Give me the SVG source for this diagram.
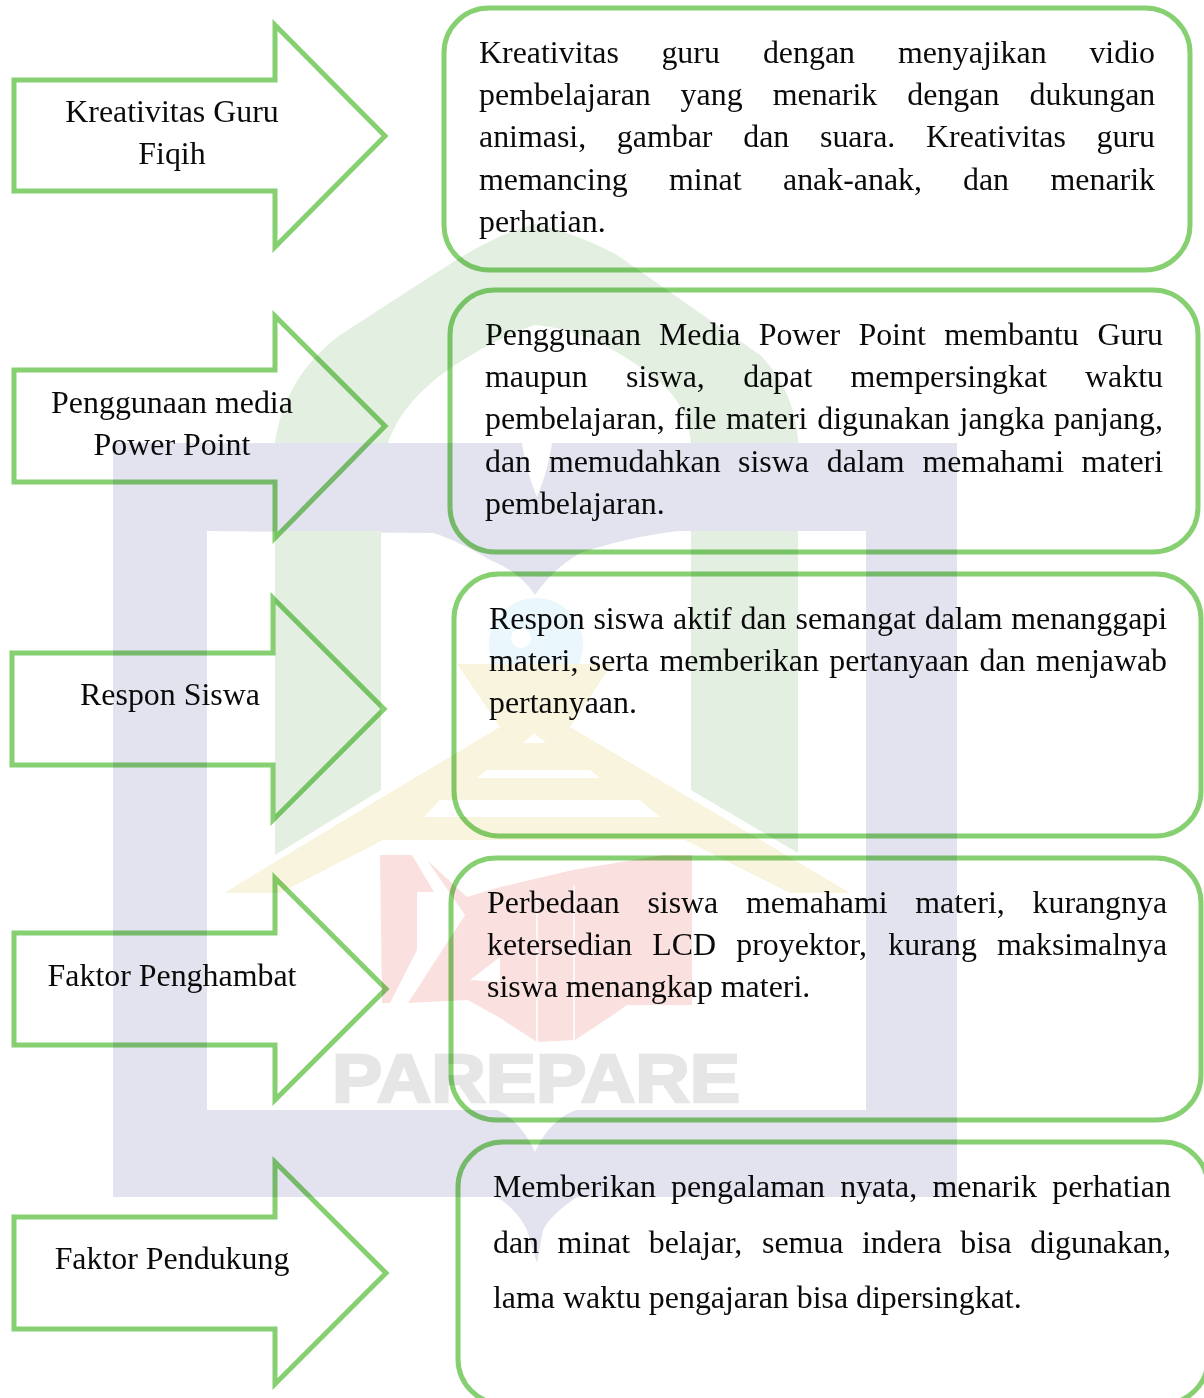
<svg xmlns="http://www.w3.org/2000/svg" width="1204" height="1398" viewBox="0 0 1204 1398">
<style>
text{font-family:"Liberation Serif","Times New Roman",serif;font-size:31.9px;fill:#0a0a0a}
.c{text-anchor:middle}
.s{fill:none;stroke:#86d072;stroke-width:5;mix-blend-mode:multiply;stroke-miterlimit:10}
.bl{fill:#e2e3ee}.gr{fill:#e3efe1}.ye{fill:#f8f4dd}.re{fill:#fbe0e0}.cy{fill:#eaf7fd}
#wm text{font-family:"Liberation Sans",Arial,sans-serif;font-weight:700;font-size:69px;fill:#e6e6e6;stroke:#e6e6e6;stroke-width:2.5}
</style>
<rect width="1204" height="1398" fill="#fff"/>
<g id="wm">
<path class="gr" d="M274 452C278 405 300 365 340 335L453 262C480 245 510 230 535 224C555 228 590 240 617 255L760 355C785 380 797 410 799 452L692 452C690 420 680 395 650 375C620 350 575 328 535 325C505 335 475 352 449 369C420 390 395 415 385 452Z"/>
<path class="bl" fill-rule="evenodd" d="M113 443H522C525 465 532 485 537 497C542 485 549 465 552 443H957V1197H577C560 1208 548 1220 543 1230L537 1263L527 1230C522 1220 514 1208 497 1197H113ZM207 531V1110H497C510 1115 525 1130 535 1152C545 1130 560 1115 577 1110H866V531H680C640 535 605 545 580 553C560 565 545 580 535 595C525 580 510 568 490 560C470 548 450 538 433 533Z"/>
<path class="gr" d="M275 531H381V790L275 855Z"/>
<path class="gr" d="M691 531H798V853L691 790Z"/>
<circle class="cy" cx="536" cy="645" r="47"/>
<circle cx="521" cy="638" r="10" fill="#fff"/>
<path class="ye" fill-rule="evenodd" d="M224 893L381 798L500 727L457 664H612L570 727L850 893H790L685 840H383L280 893ZM534 733L523 743H546ZM487 770H590L600 778H477ZM440 800H640L660 817H424Z"/>
<path class="re" d="M380 855H412L434 892H417V950L390 1003H382Z"/>
<path class="re" fill-rule="evenodd" d="M427 860L467 897L500 887L573 870L663 855H692V1005H627L613 1015L575 1040L537 1042L500 1018L468 1000L408 1003L465 915ZM500 957L470 980L500 982Z"/>
<path d="M537 900V1042M574 885V1040" stroke="#fff" stroke-width="1.5" fill="none"/>
<text x="332" y="1102" textLength="408" lengthAdjust="spacingAndGlyphs">PAREPARE</text>
</g>
<g id="arrow1"><path class="s" d="M14 80H275V25L385 136L275 247V191H14Z"/><text class="c" x="172" y="122">Kreativitas Guru</text><text class="c" x="172" y="164">Fiqih</text></g>
<g id="arrow2"><path class="s" d="M14 370H275V316L385 426L275 538V482H14Z"/><text class="c" x="172" y="413">Penggunaan media</text><text class="c" x="172" y="455">Power Point</text></g>
<g id="arrow3"><path class="s" d="M12 653H273V598L384 709L273 820V765H12Z"/><text class="c" x="170" y="705">Respon Siswa</text></g>
<g id="arrow4"><path class="s" d="M14 933H275V878L386 989L275 1100V1045H14Z"/><text class="c" x="172" y="986">Faktor Penghambat</text></g>
<g id="arrow5"><path class="s" d="M14 1217H275V1162L386 1273L275 1384V1329H14Z"/><text class="c" x="172" y="1269">Faktor Pendukung</text></g>
<g id="box1"><rect class="s" x="444" y="8" width="746" height="262" rx="45"/>
<text y="63"><tspan x="479">Kreativitas</tspan><tspan x="661.4">guru</tspan><tspan x="762.9">dengan</tspan><tspan x="897.9">menyajikan</tspan><tspan x="1089.4">vidio</tspan></text>
<text y="105"><tspan x="479">pembelajaran</tspan><tspan x="680.6">yang</tspan><tspan x="772.8">menarik</tspan><tspan x="907.3">dengan</tspan><tspan x="1029.5">dukungan</tspan></text>
<text y="147"><tspan x="479">animasi,</tspan><tspan x="616.8">gambar</tspan><tspan x="743.2">dan</tspan><tspan x="820">suara.</tspan><tspan x="926">Kreativitas</tspan><tspan x="1096.5">guru</tspan></text>
<text y="190"><tspan x="479">memancing</tspan><tspan x="669">minat</tspan><tspan x="783">anak-anak,</tspan><tspan x="963">dan</tspan><tspan x="1050.5">menarik</tspan></text>
<text x="479" y="232">perhatian.</text></g>
<g id="box2"><rect class="s" x="450" y="290" width="748" height="262" rx="45"/>
<text y="345"><tspan x="485">Penggunaan</tspan><tspan x="659">Media</tspan><tspan x="758.7">Power</tspan><tspan x="858.4">Point</tspan><tspan x="944.2">membantu</tspan><tspan x="1097.5">Guru</tspan></text>
<text y="387"><tspan x="485">maupun</tspan><tspan x="626">siswa,</tspan><tspan x="743.2">dapat</tspan><tspan x="850.4">mempersingkat</tspan><tspan x="1085">waktu</tspan></text>
<text y="429"><tspan x="485">pembelajaran,</tspan><tspan x="674">file</tspan><tspan x="726">materi</tspan><tspan x="817.2">digunakan</tspan><tspan x="959.6">jangka</tspan><tspan x="1054">panjang,</tspan></text>
<text y="472"><tspan x="485">dan</tspan><tspan x="548.9">memudahkan</tspan><tspan x="738">siswa</tspan><tspan x="826.7">dalam</tspan><tspan x="922.4">memahami</tspan><tspan x="1081.6">materi</tspan></text>
<text x="485" y="514">pembelajaran.</text></g>
<g id="box3"><rect class="s" x="454" y="574" width="747" height="262" rx="45"/>
<text y="629"><tspan x="489">Respon</tspan><tspan x="593.4">siswa</tspan><tspan x="673.1">aktif</tspan><tspan x="740.5">dan</tspan><tspan x="795.5">semangat</tspan><tspan x="924.7">dalam</tspan><tspan x="1011.3">menanggapi</tspan></text>
<text y="671"><tspan x="489">materi,</tspan><tspan x="588.8">serta</tspan><tspan x="659.5">memberikan</tspan><tspan x="829.2">pertanyaan</tspan><tspan x="979.4">dan</tspan><tspan x="1036">menjawab</tspan></text>
<text x="489" y="713">pertanyaan.</text></g>
<g id="box4"><rect class="s" x="451" y="858" width="750" height="262" rx="45"/>
<text y="913"><tspan x="487">Perbedaan</tspan><tspan x="647.4">siswa</tspan><tspan x="746">memahami</tspan><tspan x="915.3">materi,</tspan><tspan x="1032.5">kurangnya</tspan></text>
<text y="955"><tspan x="487">ketersedian</tspan><tspan x="652.2">LCD</tspan><tspan x="736.2">proyektor,</tspan><tspan x="888.3">kurang</tspan><tspan x="997">maksimalnya</tspan></text>
<text x="487" y="997">siswa menangkap materi.</text></g>
<g id="box5"><rect class="s" x="458" y="1142" width="750" height="262" rx="45"/>
<text y="1197"><tspan x="493">Memberikan</tspan><tspan x="671">pengalaman</tspan><tspan x="840.2">nyata,</tspan><tspan x="932.5">menarik</tspan><tspan x="1052.2">perhatian</tspan></text>
<text y="1253"><tspan x="493">dan</tspan><tspan x="557.6">minat</tspan><tspan x="648.8">belajar,</tspan><tspan x="762">semua</tspan><tspan x="862">indera</tspan><tspan x="960.3">bisa</tspan><tspan x="1030.2">digunakan,</tspan></text>
<text x="493" y="1308">lama waktu pengajaran bisa dipersingkat.</text></g>
</svg>
